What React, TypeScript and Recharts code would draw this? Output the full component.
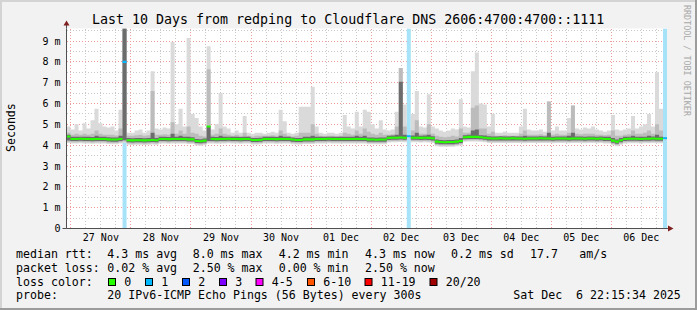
import React from 'react';
import { ComposedChart, Area, XAxis, YAxis, CartesianGrid, ReferenceDot } from 'recharts';

const TITLE = 'Last 10 Days from redping to Cloudflare DNS 2606:4700:4700::1111';
const dayLabels = ['27 Nov', '28 Nov', '29 Nov', '30 Nov', '01 Dec', '02 Dec', '03 Dec', '04 Dec', '05 Dec', '06 Dec'];
const firstMidnightHour = 1.74; // window starts Nov 26 22:15:34
const spanHours = 240;
const columnHours = 1.6;
const yTicks = [0, 1, 2, 3, 4, 5, 6, 7, 8, 9];
const yTop = 9.6;
const gridMinorY = [0.5, 1.5, 2.5, 3.5, 4.5, 5.5, 6.5, 7.5, 8.5, 9.5];
const gridMajorY = [1, 2, 3, 4, 5, 6, 7, 8, 9];
const lossColumns = [14, 85, 149];

// median rtt (ms) per column
const median = [
  4.42, 4.3, 4.3, 4.31, 4.3, 4.3, 4.29, 4.3, 4.3, 4.3,
  4.28, 4.27, 4.27, 4.3, 8.0, 4.24, 4.23, 4.24, 4.24, 4.23,
  4.24, 4.25, 4.24, 4.3, 4.3, 4.29, 4.3, 4.3, 4.3, 4.3,
  4.28, 4.28, 4.2, 4.19, 4.22, 4.9, 4.3, 4.29, 4.3, 4.3,
  4.31, 4.3, 4.3, 4.29, 4.3, 4.3, 4.25, 4.25, 4.26, 4.3,
  4.3, 4.3, 4.29, 4.3, 4.3, 4.3, 4.27, 4.25, 4.25, 4.28,
  4.28, 4.28, 4.3, 4.3, 4.3, 4.31, 4.3, 4.3, 4.3, 4.3,
  4.3, 4.3, 4.3, 4.3, 4.3, 4.27, 4.27, 4.26, 4.27, 4.27,
  4.35, 4.36, 4.36, 4.37, 4.36, 4.43, 4.36, 4.36, 4.35, 4.36,
  4.35, 4.33, 4.17, 4.15, 4.14, 4.15, 4.15, 4.17, 4.2, 4.38,
  4.4, 4.4, 4.4, 4.38, 4.36, 4.33, 4.32, 4.32, 4.33, 4.32,
  4.32, 4.33, 4.32, 4.32, 4.31, 4.32, 4.32, 4.32, 4.33, 4.32,
  4.32, 4.31, 4.32, 4.32, 4.32, 4.31, 4.32, 4.32, 4.32, 4.31,
  4.32, 4.32, 4.31, 4.32, 4.3, 4.3, 4.22, 4.17, 4.24, 4.3,
  4.31, 4.31, 4.31, 4.3, 4.31, 4.31, 4.32, 4.31, 4.31, 4.33,
];

// lowest ping per column
const smokeMin = [
  4.1, 4.08, 4.08, 4.09, 4.08, 4.08, 4.07, 4.08, 4.08, 4.08,
  4.06, 4.05, 4.05, 4.08, 4.12, 4.02, 4.01, 4.02, 4.02, 4.01,
  4.02, 4.03, 4.02, 4.08, 4.08, 4.07, 4.08, 4.08, 4.08, 4.08,
  4.06, 4.06, 3.98, 3.97, 4.0, 4.08, 4.08, 4.07, 4.08, 4.08,
  4.09, 4.08, 4.08, 4.07, 4.08, 4.08, 4.03, 4.03, 4.04, 4.08,
  4.08, 4.08, 4.07, 4.08, 4.08, 4.08, 4.05, 4.03, 4.03, 4.06,
  4.06, 4.06, 4.08, 4.08, 4.08, 4.09, 4.08, 4.08, 4.08, 4.08,
  4.08, 4.08, 4.08, 4.08, 4.08, 4.05, 4.05, 4.04, 4.05, 4.05,
  4.13, 4.14, 4.14, 4.15, 4.14, 4.33, 4.14, 4.14, 4.13, 4.14,
  4.13, 4.11, 3.95, 3.93, 3.92, 3.93, 3.93, 3.95, 3.98, 4.16,
  4.18, 4.18, 4.18, 4.16, 4.14, 4.11, 4.1, 4.1, 4.11, 4.1,
  4.1, 4.11, 4.1, 4.1, 4.09, 4.1, 4.1, 4.1, 4.11, 4.1,
  4.1, 4.09, 4.1, 4.1, 4.1, 4.09, 4.1, 4.1, 4.1, 4.09,
  4.1, 4.1, 4.09, 4.1, 4.08, 4.08, 4.0, 3.95, 4.02, 4.08,
  4.09, 4.09, 4.09, 4.08, 4.09, 4.09, 4.1, 4.09, 4.09, 4.25,
];

// highest ping per column
const smokeMax = [
  4.9, 4.75, 5.0, 4.7, 5.05, 4.8, 5.2, 5.75, 5.05, 4.9,
  4.85, 4.9, 4.7, 5.7, 9.6, 4.6, 4.6, 4.7, 4.75, 4.6,
  4.7, 7.55, 4.8, 4.75, 4.85, 4.8, 8.95, 5.0, 5.75, 4.9,
  9.15, 5.5, 5.3, 4.9, 4.7, 8.75, 4.75, 5.0, 6.5, 4.9,
  4.8, 4.6, 4.7, 4.6, 5.4, 4.6, 4.55, 4.6, 4.6, 4.55,
  4.6, 4.65, 4.6, 5.7, 5.15, 4.6, 4.55, 4.6, 5.85, 5.85,
  5.85, 6.8, 4.9, 4.6, 4.55, 4.6, 4.6, 4.55, 4.6, 5.45,
  4.9, 4.8, 5.6, 4.9, 5.7, 5.6, 5.0, 4.8, 5.2, 4.75,
  4.7, 4.75, 5.6, 7.7, 5.95, 4.45, 5.5, 6.6, 4.9, 4.85,
  6.45, 4.9, 4.8, 4.7, 4.65, 4.7, 4.8, 4.75, 6.2, 4.9,
  4.85, 7.55, 8.45, 6.0, 5.95, 4.9, 5.5, 4.6, 4.6, 4.65,
  4.6, 4.6, 4.6, 4.9, 5.75, 4.75, 4.7, 4.7, 4.75, 4.65,
  6.1, 4.7, 4.9, 4.7, 4.7, 5.3, 5.9, 4.8, 4.75, 4.85,
  4.8, 4.9, 4.75, 4.7, 4.65, 4.7, 5.45, 4.75, 4.7, 4.75,
  4.8, 5.4, 4.8, 4.9, 5.0, 5.5, 4.9, 7.5, 5.75, 4.36,
];

// upper edge of the medium-density smoke
const smokeMid = [
  4.6, 4.5, 4.55, 4.5, 4.55, 4.5, 4.55, 4.7, 4.55, 4.5,
  4.5, 4.5, 4.47, 4.8, 9.6, 4.45, 4.45, 4.48, 4.5, 4.45,
  4.48, 6.6, 4.5, 4.5, 4.52, 4.5, 5.1, 4.55, 4.7, 4.55,
  4.9, 4.6, 4.55, 4.45, 4.42, 7.65, 4.5, 4.55, 4.8, 4.55,
  4.5, 4.45, 4.5, 4.45, 4.6, 4.45, 4.42, 4.45, 4.45, 4.45,
  4.45, 4.48, 4.45, 4.7, 4.55, 4.45, 4.42, 4.45, 4.6, 4.6,
  4.6, 5.0, 4.55, 4.45, 4.42, 4.45, 4.45, 4.42, 4.45, 4.6,
  4.55, 4.5, 4.7, 4.55, 4.8, 4.65, 4.55, 4.5, 4.6, 4.5,
  4.5, 4.52, 4.9, 7.7, 4.9, 4.45, 4.7, 5.2, 4.55, 4.55,
  5.0, 4.55, 4.45, 4.4, 4.38, 4.4, 4.45, 4.42, 4.8, 4.6,
  4.6, 5.8, 5.9, 4.8, 4.8, 4.55, 4.65, 4.45, 4.45, 4.48,
  4.45, 4.45, 4.45, 4.55, 4.7, 4.5, 4.5, 4.5, 4.52, 4.48,
  6.1, 4.5, 4.55, 4.5, 4.5, 4.6, 5.9, 4.55, 4.52, 4.55,
  4.55, 4.55, 4.5, 4.5, 4.48, 4.5, 4.7, 4.45, 4.45, 4.5,
  4.52, 4.7, 4.55, 4.55, 4.6, 4.7, 4.55, 5.0, 4.7, 4.36,
];

// upper edge of the dense smoke
const smokeDense = [
  4.5, 4.4, 4.4, 4.41, 4.4, 4.4, 4.39, 4.45, 4.4, 4.4,
  4.38, 4.37, 4.37, 4.45, 9.6, 4.34, 4.33, 4.34, 4.34, 4.33,
  4.34, 4.6, 4.34, 4.4, 4.4, 4.39, 4.55, 4.4, 4.45, 4.4,
  4.4, 4.38, 4.3, 4.29, 4.32, 4.9, 4.4, 4.39, 4.45, 4.4,
  4.41, 4.4, 4.4, 4.39, 4.4, 4.4, 4.35, 4.35, 4.36, 4.4,
  4.4, 4.4, 4.39, 4.45, 4.4, 4.4, 4.37, 4.35, 4.35, 4.4,
  4.4, 4.45, 4.4, 4.4, 4.4, 4.41, 4.4, 4.4, 4.4, 4.4,
  4.4, 4.4, 4.45, 4.4, 4.45, 4.37, 4.37, 4.36, 4.37, 4.37,
  4.45, 4.46, 4.5, 7.05, 4.5, 4.45, 4.46, 4.6, 4.45, 4.46,
  4.5, 4.43, 4.27, 4.25, 4.24, 4.25, 4.25, 4.27, 4.35, 4.48,
  4.5, 4.7, 4.75, 4.48, 4.46, 4.43, 4.42, 4.42, 4.43, 4.42,
  4.42, 4.43, 4.42, 4.42, 4.45, 4.42, 4.42, 4.42, 4.43, 4.42,
  4.6, 4.41, 4.42, 4.42, 4.42, 4.45, 4.6, 4.42, 4.42, 4.41,
  4.42, 4.42, 4.41, 4.42, 4.4, 4.4, 4.35, 4.27, 4.34, 4.4,
  4.41, 4.45, 4.41, 4.4, 4.41, 4.45, 4.42, 4.5, 4.41, 4.36,
];

const sixHourMarks = Array.from({ length: 40 }, (_, k) => firstMidnightHour + 6 * k);
const midnightMarks = dayLabels.map((_, k) => firstMidnightHour + 24 * k);
const noonMarks = dayLabels.map((_, k) => firstMidnightHour + 12 + 24 * k);

const rows = median.map((m, i) => {
  const lost = lossColumns.includes(i);
  return {
    t: i * columnHours,
    loss: lost ? [0, yTop] : [0, 0],
    light: [smokeMin[i], smokeMax[i]],
    mid: [smokeMin[i] + 0.06, smokeMid[i]],
    dense: [smokeMin[i] + 0.12, smokeDense[i]],
    medOk: lost ? [m, m] : [m - 0.05, m + 0.05],
    medLoss: lost ? [m - 0.05, m + 0.05] : [m, m],
  };
});
rows.push({ ...rows[rows.length - 1], t: spanHours });

const lossLegend = [
  { label: '0', color: '#26ff00' },
  { label: '1', color: '#00b8ff' },
  { label: '2', color: '#0059ff' },
  { label: '3', color: '#7e00ff' },
  { label: '4-5', color: '#ff00ff' },
  { label: '6-10', color: '#ff5500' },
  { label: '11-19', color: '#ff0000' },
  { label: '20/20', color: '#a10000' },
];
const lossLegendX = [108.5, 145.5, 182.5, 219.5, 256, 307.5, 365, 430];

const MONO = "'DejaVu Sans Mono', monospace";
const AXIS = '#505050';
const ARROW = '#7f1f1f';

const areaCommon = {
  type: 'stepAfter' as const,
  stroke: 'none',
  fillOpacity: 1,
  isAnimationActive: false,
  dot: false,
  activeDot: false,
};

const YArrow = (p: any) => (
  <g>
    <line x1={p.cx} y1={p.cy} x2={p.cx} y2={p.cy - 4} stroke={AXIS} />
    <polygon points={`${p.cx - 3},${p.cy - 3} ${p.cx + 3},${p.cy - 3} ${p.cx},${p.cy - 8}`} fill={ARROW} />
  </g>
);
const XArrow = (p: any) => (
  <g>
    <line x1={p.cx - 4} y1={p.cy} x2={p.cx + 2} y2={p.cy} stroke={AXIS} />
    <polygon points={`${p.cx + 1},${p.cy - 3} ${p.cx + 1},${p.cy + 3} ${p.cx + 6.5},${p.cy}`} fill={ARROW} />
  </g>
);
const XStub = (p: any) => <line x1={p.cx - 4} y1={p.cy} x2={p.cx} y2={p.cy} stroke={AXIS} />;

const T = (props: any) => (
  <text fontFamily={MONO} fontSize={11.6} fill="#000" style={{ whiteSpace: 'pre' }} {...props} />
);

export default function App() {
  const r1 = 257.7, r2 = 271.6, r3 = 285.5, r4 = 299.4;
  return (
    <div style={{ position: 'absolute', left: 0, top: 0, width: 697, height: 310, background: '#f2f2f2', overflow: 'hidden' }}>
      <ComposedChart width={697} height={310} data={rows} margin={{ top: 28.5, right: 30, bottom: 0, left: 6.5 }}>
        <CartesianGrid
          fill="#ffffff"
          stroke="#c8c8c8"
          strokeDasharray="1 2"
          shapeRendering="crispEdges"
          horizontalValues={gridMinorY}
          verticalValues={sixHourMarks}
        />
        <CartesianGrid
          stroke="#f09a9a"
          strokeDasharray="1 2"
          shapeRendering="crispEdges"
          horizontalValues={gridMajorY}
          verticalValues={midnightMarks}
        />
        <XAxis
          type="number"
          dataKey="t"
          domain={[0, spanHours]}
          ticks={noonMarks}
          interval={0}
          tickFormatter={(v: number, i: number) => dayLabels[i]}
          height={81.5}
          tickLine={false}
          tickSize={0}
          tickMargin={5.5}
          axisLine={{ stroke: AXIS }}
          tick={{ fontFamily: MONO, fontSize: 10, fill: '#000' }}
          allowDataOverflow
        />
        <YAxis
          type="number"
          domain={[0, yTop]}
          ticks={yTicks}
          interval={0}
          width={60}
          tickLine={false}
          tickSize={0}
          tickMargin={6}
          axisLine={{ stroke: AXIS }}
          tickFormatter={(v: number) => (v === 0 ? '0' : `${v} m`)}
          tick={{ fontFamily: MONO, fontSize: 10, fill: '#000' }}
          allowDataOverflow
        />
        <Area dataKey="loss" fill="#a6e3f8" {...areaCommon} />
        <Area dataKey="light" fill="#dadada" {...areaCommon} />
        <Area dataKey="mid" fill="#bcbcbc" {...areaCommon} />
        <Area dataKey="dense" fill="#6c6c6c" {...areaCommon} />
        <Area dataKey="medOk" fill="#26ff00" {...areaCommon} />
        <Area dataKey="medLoss" fill="#00b8ff" {...areaCommon} />
        <ReferenceDot x={0} y={yTop} ifOverflow="visible" shape={YArrow} />
        <ReferenceDot x={spanHours} y={0} ifOverflow="visible" shape={XArrow} />
        <ReferenceDot x={0} y={0} ifOverflow="visible" shape={XStub} />
      </ComposedChart>
      <svg width={697} height={310} style={{ position: 'absolute', left: 0, top: 0, pointerEvents: 'none' }}>
        <rect x={0} y={0} width={697} height={2} fill="#d4d4d4" />
        <rect x={0} y={0} width={2} height={310} fill="#d4d4d4" />
        <rect x={0} y={308} width={697} height={2} fill="#9c9c9c" />
        <rect x={695} y={0} width={2} height={310} fill="#9c9c9c" />
        <text x={92} y={24} fontFamily={MONO} fontSize={13.3} fill="#000">{TITLE}</text>
        <text x={15} y={127.6} transform="rotate(-90 15 127.6)" textAnchor="middle" fontFamily={MONO} fontSize={11.6} fill="#000">Seconds</text>
        <text x={683.5} y={5} transform="rotate(90 683.5 5)" fontFamily={MONO} fontSize={8.4} fill="#a8a8a8">RRDTOOL / TOBI OETIKER</text>

        <T x={16} y={r1}>median rtt:</T>
        <T x={107.3} y={r1}>4.3 ms avg</T>
        <T x={192.7} y={r1}>8.0 ms max</T>
        <T x={278.7} y={r1}>4.2 ms min</T>
        <T x={365} y={r1}>4.3 ms now</T>
        <T x={451} y={r1}>0.2 ms sd</T>
        <T x={530} y={r1}>17.7</T>
        <T x={579.3} y={r1}>am/s</T>

        <T x={16} y={r2}>packet loss:</T>
        <T x={107.3} y={r2}>0.02 % avg</T>
        <T x={192.7} y={r2}>2.50 % max</T>
        <T x={278.7} y={r2}>0.00 % min</T>
        <T x={365} y={r2}>2.50 % now</T>

        <T x={16} y={r3}>loss color:</T>
        {lossLegend.map((d, i) => (
          <g key={d.label}>
            <rect x={lossLegendX[i]} y={278.5} width={7} height={7} fill={d.color} stroke="#000" strokeWidth={1} />
            <T x={lossLegendX[i] + 15.7} y={r3}>{d.label}</T>
          </g>
        ))}

        <T x={16} y={r4}>probe:</T>
        <T x={107.3} y={r4}>20 IPv6-ICMP Echo Pings (56 Bytes) every 300s</T>
        <T x={513.3} y={r4}>Sat Dec  6 22:15:34 2025</T>
      </svg>
    </div>
  );
}
